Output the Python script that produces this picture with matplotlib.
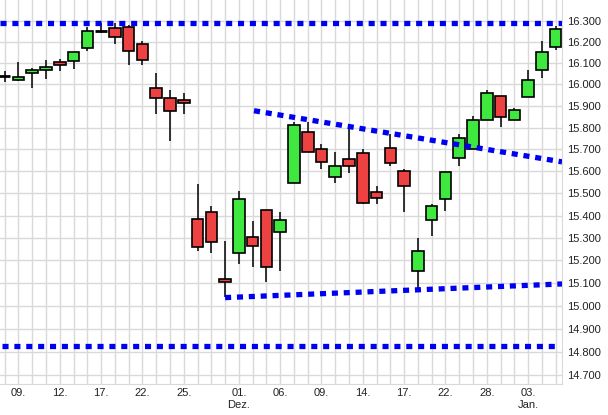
import matplotlib.pyplot as plt
from matplotlib.ticker import NullLocator
import numpy as np

# daily candles
opens = [16040, 16022, 16054, 16066, 16103, 16110, 16171, 16251, 16264, 16269,
         16188, 15982, 15939, 15927, 15383, 15418, 15120, 15231, 15305, 15423,
         15326, 15546, 15779, 15704, 15574, 15655, 15682, 15505, 15707, 15602,
         15153, 15378, 15473, 15660, 15704, 15836, 15948, 15834, 15944, 16068,
         16176]
highs = [16065, 16103, 16078, 16116, 16121, 16150, 16269, 16288, 16290, 16280,
         16202, 16055, 15973, 15959, 15543, 15442, 15285, 15510, 15375, 15423,
         15415, 15827, 15824, 15724, 15690, 15794, 15700, 15533, 15772, 15611,
         15301, 15450, 15597, 15769, 15855, 15975, 15948, 15892, 16069, 16205,
         16275]
lows = [16011, 16016, 15982, 16027, 16061, 16071, 16157, 16241, 16190, 16092,
        16090, 15861, 15740, 15863, 15243, 15234, 15037, 15183, 15172, 15105,
        15151, 15546, 15687, 15612, 15549, 15593, 15450, 15450, 15622, 15416,
        15062, 15307, 15421, 15622, 15704, 15836, 15801, 15834, 15944, 16032,
        16160]
closes = [16040, 16037, 16068, 16083, 16092, 16150, 16250, 16251, 16221, 16157,
          16116, 15936, 15878, 15913, 15259, 15282, 15103, 15473, 15263, 15170,
          15378, 15812, 15687, 15641, 15623, 15625, 15455, 15477, 15636, 15532,
          15241, 15445, 15597, 15754, 15836, 15959, 15848, 15882, 16019, 16154,
          16259]

tick_pos = [1, 4, 7, 10, 13, 17, 20, 23, 26, 29, 32, 35, 38]
tick_labels = ['09.', '12.', '17.', '22.', '25.', '01.\nDez.', '06.', '09.',
               '14.', '17.', '22.', '28.', '03.\nJan.']
y_levels = [14700, 14800, 14900, 15000, 15100, 15200, 15300, 15400, 15500,
            15600, 15700, 15800, 15900, 16000, 16100, 16200, 16300]

# support / resistance lines: (x0, y0, x1, y1)
res_line = (-0.34, 16290, 40.46, 16290)
sup_line = (-0.2, 14824, 40.1, 14824)
down_trend = (18.1, 15878, 40.46, 15643)
up_trend = (16.0, 15036, 40.46, 15096)

plt.rcParams['font.family'] = ['Liberation Sans', 'DejaVu Sans']
fig = plt.figure(figsize=(6.08, 4.15), dpi=100)
ax = fig.add_axes([0, 31 / 415, 562 / 608, 384 / 415])

ax.set_yscale('log')
x = np.arange(len(opens))
o = np.array(opens)
c = np.array(closes)

ax.vlines(x, lows, highs, color='black', lw=1.1, zorder=3)
up = c > o
down = c < o
doji = c == o
ax.bar(x[up], (c - o)[up], bottom=o[up], width=0.84, color='#3ee83e',
       edgecolor='black', linewidth=1.2, zorder=4)
ax.bar(x[down], (o - c)[down], bottom=c[down], width=0.84, color='#ee4242',
       edgecolor='black', linewidth=1.2, zorder=4)
ax.hlines(o[doji], x[doji] - 0.42, x[doji] + 0.42, color='black', lw=2, zorder=4)

for ln in [res_line, sup_line, down_trend, up_trend]:
    ax.plot([ln[0], ln[2]], [ln[1], ln[3]], color='#0000f0', lw=3.8,
            linestyle=(0, (1.15, 1.1)), zorder=5)

ax.set_xlim(-0.34, 40.46)
ax.set_ylim(14662, 16399)

ax.set_xticks(x, minor=True)
ax.set_xticks(tick_pos)
ax.set_xticklabels(tick_labels, fontsize=8, linespacing=1.25)
ax.set_yticks(y_levels)
ax.yaxis.set_minor_locator(NullLocator())
ax.set_yticklabels([f'{v:,}'.replace(',', '.') for v in y_levels], fontsize=8)
ax.yaxis.tick_right()
ax.tick_params(axis='both', which='both', length=0, colors='#222222')
ax.tick_params(axis='y', pad=4)
ax.tick_params(axis='x', pad=3)

ax.grid(True, which='both', axis='x', color='#d9d9d9', lw=1)
ax.grid(True, which='major', axis='y', color='#d9d9d9', lw=1)
ax.set_axisbelow(True)
for s in ['top', 'left']:
    ax.spines[s].set_visible(False)
for s in ['right', 'bottom']:
    ax.spines[s].set_color('#d9d9d9')

plt.savefig('out.png', dpi=100)
